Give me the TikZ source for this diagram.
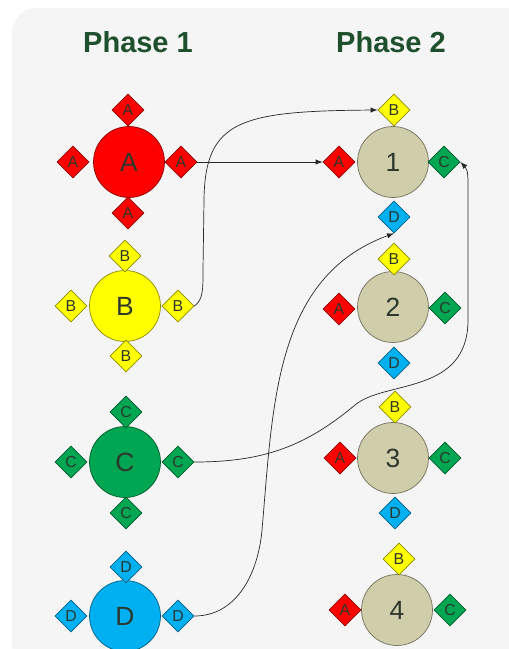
\documentclass[tikz,border=0pt]{standalone}
\usepackage{fontspec}
\setmainfont{Liberation Sans}
\usetikzlibrary{shapes,arrows,positioning,calc}
\definecolor{phasegreen}{RGB}{30,80,45}
\definecolor{labeldark}{RGB}{45,55,45}
\definecolor{linkgray}{RGB}{40,40,40}
\definecolor{bgpanel}{RGB}{245,245,245}
\definecolor{keyred}{RGB}{255,0,0}
\definecolor{keyyellow}{RGB}{255,255,0}
\definecolor{keygreen}{RGB}{0,166,81}
\definecolor{keyblue}{RGB}{0,176,240}
\definecolor{seattan}{RGB}{207,205,170}

\begin{document}
\begin{tikzpicture}[x=0.02cm, y=-0.02cm,
        seat/.style={circle, draw=#1!55!black, thin, fill=#1, minimum size=1.42cm, inner sep=0pt, font=\fontsize{15}{15}\selectfont, text=labeldark},
        tag/.style={diamond, draw=#1!55!black, thin, fill=#1, minimum size=0.64cm, inner sep=0pt, font=\fontsize{9}{9}\selectfont, text=labeldark},
        phasetitle/.style={font=\fontsize{16.5}{18}\selectfont\bfseries, text=phasegreen},
        link/.style={->, >=latex, thin, linkgray}]

        \useasboundingbox (0,0) rectangle (508,649);
        \fill[bgpanel, rounded corners=14] (12,8) rectangle (530,670);

        % Titles
        \node[phasetitle] (ph1) at (138,42) {Phase 1};
        \node[phasetitle] (ph2) at (391,42) {Phase 2};

        % Phase 1 Nodes
        \node[seat=keyred] (A) at (129,162) {A};
        \node[tag=keyred] (A-t) at (128,110) {A};
        \node[tag=keyred] (A-l) at (73,162) {A};
        \node[tag=keyred] (A-r) at (181,162) {A};
        \node[tag=keyred] (A-b) at (128,213) {A};

        \node[seat=keyyellow] (B) at (125,306) {B};
        \node[tag=keyyellow] (B-t) at (125,256) {B};
        \node[tag=keyyellow] (B-l) at (71,306) {B};
        \node[tag=keyyellow] (B-r) at (178,306) {B};
        \node[tag=keyyellow] (B-b) at (126,356) {B};

        \node[seat=keygreen] (C) at (125,462) {C};
        \node[tag=keygreen] (C-t) at (126,412) {C};
        \node[tag=keygreen] (C-l) at (71,462) {C};
        \node[tag=keygreen] (C-r) at (178,462) {C};
        \node[tag=keygreen] (C-b) at (126,513) {C};

        \node[seat=keyblue] (D) at (125,616) {D};
        \node[tag=keyblue] (D-t) at (126,567) {D};
        \node[tag=keyblue] (D-l) at (71,616) {D};
        \node[tag=keyblue] (D-r) at (178,616) {D};

        % Phase 2 Nodes
        \node[seat=seattan] (T1) at (393,162) {1};
        \node[tag=keyyellow] (T1-B) at (394,110) {B};
        \node[tag=keyred] (T1-A) at (339,162) {A};
        \node[tag=keygreen] (T1-C) at (444,162) {C};
        \node[tag=keyblue] (T1-D) at (394,217) {D};

        \node[seat=seattan] (T2) at (393,307) {2};
        \node[tag=keyyellow] (T2-B) at (394,259) {B};
        \node[tag=keyred] (T2-A) at (339,309) {A};
        \node[tag=keygreen] (T2-C) at (445,308) {C};
        \node[tag=keyblue] (T2-D) at (394,363) {D};

        \node[seat=seattan] (T3) at (393,458) {3};
        \node[tag=keyyellow] (T3-B) at (395,407) {B};
        \node[tag=keyred] (T3-A) at (340,458) {A};
        \node[tag=keygreen] (T3-C) at (445,458) {C};
        \node[tag=keyblue] (T3-D) at (395,513) {D};

        \node[seat=seattan] (T4) at (397,610) {4};
        \node[tag=keyyellow] (T4-B) at (399,559) {B};
        \node[tag=keyred] (T4-A) at (345,610) {A};
        \node[tag=keygreen] (T4-C) at (450,610) {C};

        % Paths
        \draw[link] (A-r.east) -- (T1-A.west);
        \draw[link] (B-r.east) .. controls (203,300) and (203,290) .. (203,270) -- (204,200) .. controls (205,120) and (240,111) .. (T1-B.west);
        \draw[link] (C-r.east) to[out=0,in=-140] (355,405) .. controls (385,380) and (468,395) .. (468,320) -- (468,190) to[out=90,in=-45] (T1-C.east);
        \draw[link] (D-r.east) to[out=0,in=-95] (262,530) to[out=85,in=200] (T1-D.south);

    \end{tikzpicture}
\end{document}
